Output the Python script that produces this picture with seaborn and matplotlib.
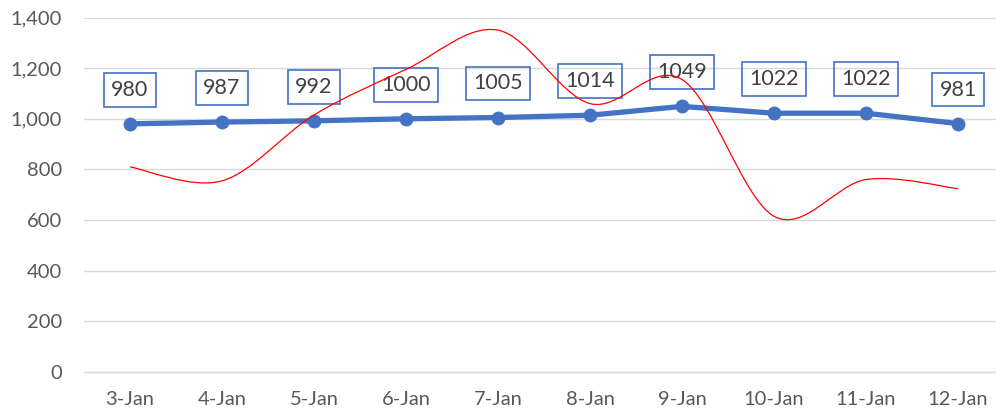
import numpy as np
import pandas as pd
import matplotlib
matplotlib.use("Agg")
import matplotlib.pyplot as plt
import seaborn as sns
from matplotlib.path import Path
from matplotlib.patches import PathPatch

dates = ["3-Jan", "4-Jan", "5-Jan", "6-Jan", "7-Jan", "8-Jan", "9-Jan", "10-Jan", "11-Jan", "12-Jan"]
blue_values = [980, 987, 992, 1000, 1005, 1014, 1049, 1022, 1022, 981]
red_values = [810, 755, 1015, 1195, 1350, 1060, 1155, 615, 760, 724]
y_ticks = [0, 200, 400, 600, 800, 1000, 1200, 1400]

BLUE = "#4472C4"
RED = "#FF0000"
GRID = "#D9D9D9"
TICK = "#595959"

sns.set_theme(style="white")
plt.rcParams['font.family'] = ['Lato', 'DejaVu Sans']

fig = plt.figure(figsize=(9.96, 4.18), dpi=100)
ax = fig.add_axes([84 / 996, 46 / 418, 920 / 996, (372 - 17.5) / 418])

df = pd.DataFrame({"pos": np.arange(len(dates)), "date": dates,
                   "blue": blue_values, "red": red_values})

sns.lineplot(data=df, x="pos", y="blue", ax=ax, color=BLUE, linewidth=3.8,
             marker="o", markersize=10, markeredgewidth=0, zorder=3)

# smoothed red line (cardinal / Catmull-Rom Bezier like Excel's smoothing)
xs = df["pos"].to_numpy(dtype=float)
ys = df["red"].to_numpy(dtype=float)
pts = np.column_stack([xs, ys])
ext = np.vstack([pts[0], pts, pts[-1]])
verts = [tuple(pts[0])]
codes = [Path.MOVETO]
for i in range(len(pts) - 1):
    p0, p1, p2, p3 = ext[i], ext[i + 1], ext[i + 2], ext[i + 3]
    c1 = p1 + (p2 - p0) / 6.0
    c2 = p2 - (p3 - p1) / 6.0
    verts += [tuple(c1), tuple(c2), tuple(p2)]
    codes += [Path.CURVE4] * 3
ax.add_patch(PathPatch(Path(verts, codes), fill=False, edgecolor=RED,
                       linewidth=0.9, zorder=5))

for i, v in enumerate(blue_values):
    ax.annotate(str(v), (i, v), xytext=(0, 24.5), textcoords="offset points",
                ha="center", va="center", fontsize=15.5, color="#404040",
                bbox=dict(boxstyle="square,pad=0.32", fc="none", ec=BLUE, lw=1.2),
                zorder=4)

ax.set_xlim(-0.5, len(dates) - 0.5)
ax.set_ylim(0, 1400)
ax.set_xticks(df["pos"])
ax.set_xticklabels(dates)
ax.set_yticks(y_ticks)
ax.set_yticklabels([f"{t:,}" for t in y_ticks])
ax.set_xlabel("")
ax.set_ylabel("")
ax.yaxis.grid(True, color=GRID, linewidth=1.0)
ax.set_axisbelow(True)
for s in ["top", "right", "left"]:
    ax.spines[s].set_visible(False)
ax.spines["bottom"].set_color(GRID)
ax.spines["bottom"].set_linewidth(1.0)
ax.tick_params(axis="both", length=0, labelsize=14.5, colors=TICK)
ax.tick_params(axis="y", pad=16)
ax.tick_params(axis="x", pad=14)

fig.savefig("out.png", dpi=100)
